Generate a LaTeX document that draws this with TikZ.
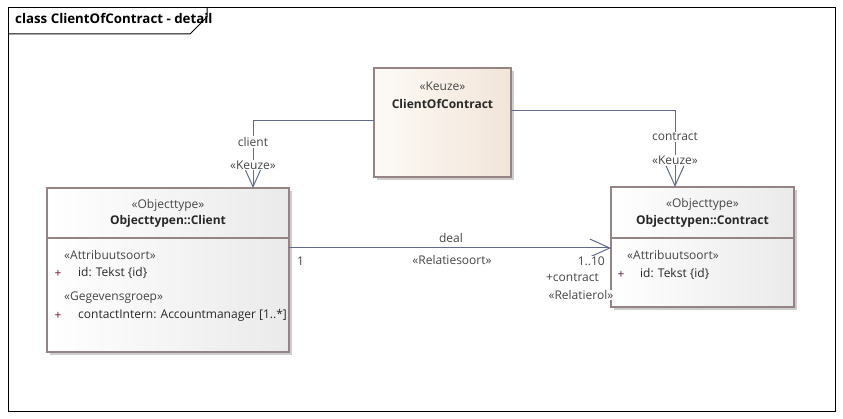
\documentclass[tikz,border=0pt]{standalone}
\usepackage{fontspec}
\setmainfont{Open Sans}
\usetikzlibrary{arrows.meta}
\definecolor{bord}{RGB}{150,132,132}
\definecolor{lin}{RGB}{95,107,138}
\definecolor{txt}{RGB}{40,40,40}
\definecolor{lbl}{RGB}{70,70,70}
\definecolor{pluscol}{RGB}{110,20,60}
\definecolor{keuzeR}{RGB}{242,229,217}
\definecolor{keuzeL}{RGB}{253,250,246}
\definecolor{objR}{RGB}{234,234,234}
\definecolor{shad}{RGB}{205,205,205}
\newcommand{\fs}{\fontsize{12}{14}\selectfont}
\tikzset{
  umlbox/.style={draw=bord, line width=2pt, inner sep=0pt, outer sep=0pt, rectangle},
  objbox/.style={umlbox, left color=white, right color=objR},
  keuzebox/.style={umlbox, left color=keuzeL, right color=keuzeR},
  shadowbox/.style={fill=shad, draw=none, inner sep=0pt, outer sep=0pt, rectangle},
  conn/.style={draw=lin, line width=1pt},
  opentip/.style={-{Straight Barb[length=20pt,width=18pt,line width=1pt]}},
  clabel/.style={fill=white, inner sep=1pt, text=lbl, font=\fs},
  btext/.style={text=txt, inner sep=0pt, font=\fs\bfseries},
  stext/.style={text=lbl, inner sep=0pt, font=\fs},
  ltext/.style={text=txt, inner sep=0pt, anchor=mid west, font=\fs},
  plustext/.style={text=pluscol, inner sep=0pt, font=\fs},
}
\begin{document}
\begin{tikzpicture}[x=1pt,y=-1pt]
\useasboundingbox (0,0) rectangle (843,419);
% frame
\draw[line width=1pt] (8,8) rectangle (835,411);
\draw[line width=1pt] (8,34) -- (190,34) -- (207,17) -- (207,8);
\node[anchor=mid west, inner sep=0pt, font=\fontsize{13.3}{15}\selectfont\bfseries] (title) at (15,21) {class ClientOfContract - detail};

% shadows
\node[shadowbox, minimum width=137pt, minimum height=109pt] (keuzesh) at (445.5,125.5) {};
\node[shadowbox, minimum width=242pt, minimum height=164pt] (clientsh) at (171,273) {};
\node[shadowbox, minimum width=183pt, minimum height=120pt] (contractsh) at (705.5,250) {};

% boxes
\node[keuzebox, minimum width=137pt, minimum height=109pt] (keuze) at (442.5,122.5) {};
\node[objbox, minimum width=242pt, minimum height=164pt] (client) at (168,270) {};
\node[objbox, minimum width=183pt, minimum height=120pt] (contract) at (702.5,247) {};

% compartment separators
\draw[draw=bord, line width=2pt] (client.west |- 0,238) coordinate (cs1) -- (client.east |- 0,238) coordinate (cs2);
\draw[draw=bord, line width=2pt] (contract.west |- 0,238) coordinate (ks1) -- (contract.east |- 0,238) coordinate (ks2);

% keuze texts
\node[stext] (kst) at (442.5,86) {«Keuze»};
\node[btext] (kname) at (442.5,104) {ClientOfContract};

% client texts
\node[stext] (cst) at (168,205) {«Objecttype»};
\node[btext] (cname) at (168,221) {Objecttypen::Client};
\node[stext, anchor=mid west] (cattst) at (64,257) {«Attribuutsoort»};
\node[plustext] (cplus1) at (58,274) {+};
\node[ltext] (cid) at (78,274) {id: Tekst \{id\}};
\node[stext, anchor=mid west] (cgst) at (64,298) {«Gegevensgroep»};
\node[plustext] (cplus2) at (58,316) {+};
\node[ltext] (cci) at (78,316) {contactIntern: Accountmanager [1..*]};

% contract texts
\node[stext] (kost) at (702.5,204) {«Objecttype»};
\node[btext] (koname) at (702.5,221) {Objecttypen::Contract};
\node[stext, anchor=mid west] (koattst) at (627,257) {«Attribuutsoort»};
\node[plustext] (koplus) at (621,275) {+};
\node[ltext] (koid) at (640,275) {id: Tekst \{id\}};

% connectors
\draw[conn, opentip] ([yshift=1.5pt]keuze.west) -| ([xshift=85pt]client.north);
\draw[conn, opentip] ([yshift=11.5pt]keuze.east) -| ([xshift=-27.5pt]contract.north);
\draw[conn, opentip] ([yshift=22pt]client.east) coordinate (d1) -- (d1 -| contract.west);

% connector labels
\node[clabel] (lclient) at (253,142) {client};
\node[clabel] (lck) at (253,165) {«Keuze»};
\node[clabel] (lcontract) at (675,137) {contract};
\node[clabel] (lkk) at (675,160) {«Keuze»};
\node[clabel] (ldeal) at (451,238) {deal};
\node[clabel] (lrs) at (452,260) {«Relatiesoort»};
\node[clabel, anchor=mid west] (lone) at (296,263) {1};
\node[clabel, anchor=mid east] (lten) at (606,263) {1..10};
\node[clabel, anchor=mid east] (lrole) at (600,279) {+contract};
\node[clabel, anchor=mid east, inner sep=0.5pt] (lrolst) at (614,297) {«Relatierol»};
\end{tikzpicture}
\end{document}
